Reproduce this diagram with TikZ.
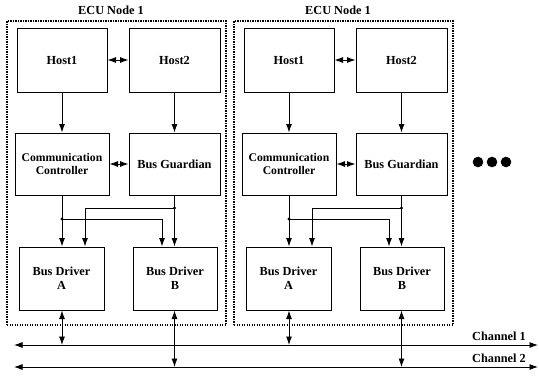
\documentclass[tikz,border=0pt]{standalone}
\usepackage{fontspec}
\setmainfont{Liberation Serif}
\usetikzlibrary{arrows.meta}
\begin{document}
\begin{tikzpicture}[x=1pt,y=-1pt,
  blk/.style={draw,line width=1pt,inner sep=0pt,align=center,font=\fontsize{12.3}{14}\selectfont\bfseries},
  ecubox/.style={line width=2.4pt,dash pattern=on 1.4pt off 1.1pt},
  conn/.style={line width=0.9pt,-{Latex[length=8.5pt,width=6pt]}},
  bconn/.style={line width=0.9pt,{Latex[length=8.5pt,width=6pt]}-{Latex[length=8.5pt,width=6pt]}},
  lbl/.style={font=\fontsize{12.3}{14}\selectfont\bfseries,inner sep=0pt},
  jdot/.style={circle,fill,inner sep=0pt,minimum size=3.2pt}]
\useasboundingbox (0,0) rectangle (539,378);
\coordinate (ch1L) at (14,345);
\coordinate (ch1R) at (538,345);
\coordinate (ch2L) at (14,367);
\coordinate (ch2R) at (538,367);
\newcommand\ecunode[2]{%
\begin{scope}[xshift=#2pt]
\node[lbl] (#1title) at (111,10) {ECU Node 1};
\node[draw,ecubox,minimum width=219pt,minimum height=304pt,inner sep=0pt] (#1box) at (116.5,173) {};
\node[blk,minimum width=90pt,minimum height=64pt] (#1h1) at (62,60) {Host1};
\node[blk,minimum width=91pt,minimum height=64pt] (#1h2) at (174.5,60) {Host2};
\node[blk,minimum width=94pt,minimum height=62pt,font=\fontsize{11.7}{13.5}\selectfont\bfseries] (#1cc) at (62,164) {Communication\\Controller};
\node[blk,minimum width=91pt,minimum height=62pt] (#1bg) at (174.5,164) {Bus Guardian};
\node[blk,minimum width=85pt,minimum height=63pt] (#1bda) at (61.5,278.5) {Bus Driver\\A};
\node[blk,minimum width=84pt,minimum height=63pt] (#1bdb) at (175,278.5) {Bus Driver\\B};
\node[jdot] (#1ja) at (62,219) {};
\node[jdot] (#1jb) at (174.5,208) {};
\draw[bconn] (#1h1.east) -- (#1h2.west);
\draw[conn] (#1h1.south) -- (#1cc.north);
\draw[conn] (#1h2.south) -- (#1bg.north);
\draw[bconn] (#1cc.east) -- (#1bg.west);
\draw[conn] (#1cc.south) -- (#1cc.south |- #1bda.north);
\draw[conn] (#1bg.south) -- (#1bg.south |- #1bdb.north);
\draw[conn] (#1ja.center) -| ([xshift=-13pt]#1bdb.north);
\draw[conn] (#1jb.center) -| ([xshift=23.5pt]#1bda.north);
\draw[bconn] (#1cc.south |- #1bda.south) -- (#1cc.south |- ch1L);
\draw[bconn] (#1bg.south |- #1bdb.south) -- (#1bg.south |- ch2L);
\end{scope}}
\ecunode{L}{0}
\ecunode{R}{227}
\draw[bconn] (ch1L) -- (ch1R);
\draw[bconn] (ch2L) -- (ch2R);
\node[lbl,anchor=east] (ch1lbl) at (526,336) {Channel 1};
\node[lbl,anchor=east] (ch2lbl) at (526,358) {Channel 2};
\fill (478,162) circle (5.3pt);
\fill (492,162) circle (5.3pt);
\fill (506,162) circle (5.3pt);
\end{tikzpicture}
\end{document}
